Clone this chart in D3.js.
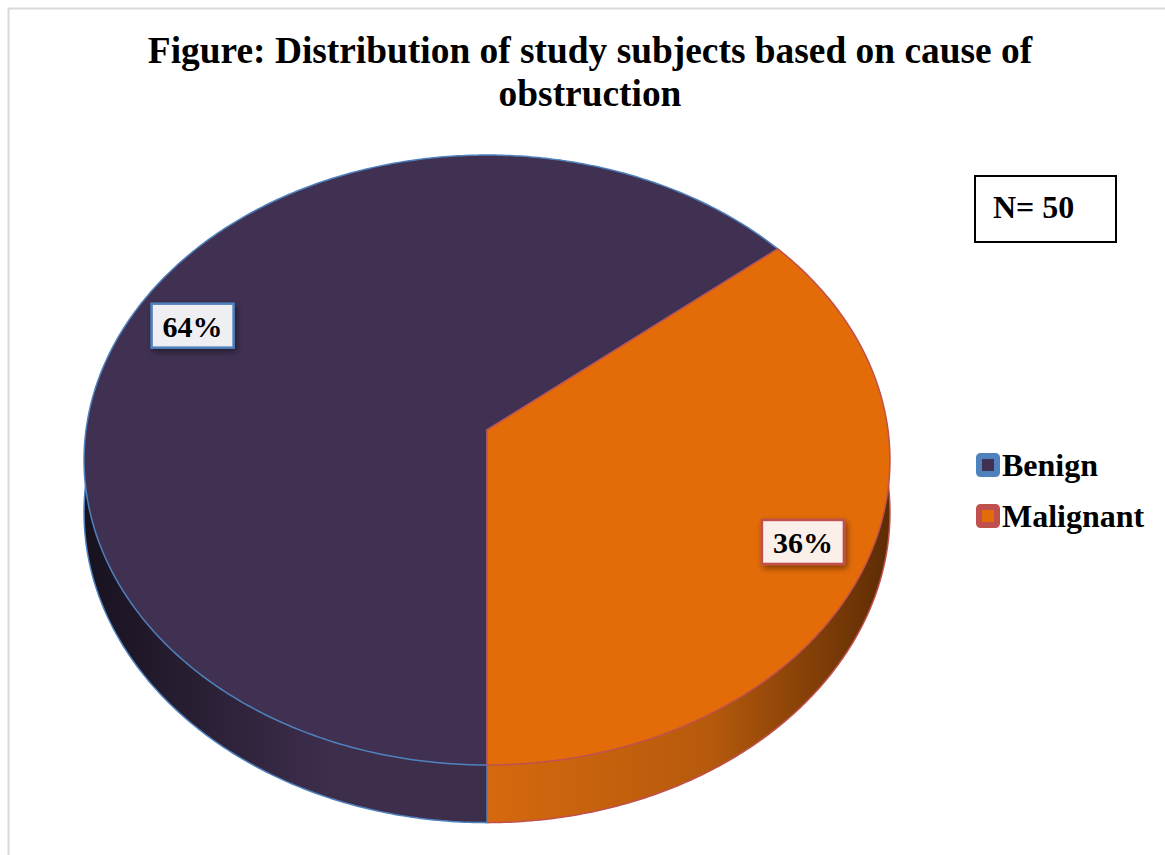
<!DOCTYPE html>
<html>
<head>
<meta charset="utf-8">
<script src="https://cdn.jsdelivr.net/npm/d3@7/dist/d3.min.js"></script>
<style>
  html, body { margin: 0; padding: 0; background: #ffffff; }
  svg { display: block; }
  text { font-family: "Times New Roman", "Liberation Serif", serif; font-weight: bold; fill: #000; }
</style>
</head>
<body>
<svg id="chart" width="1165" height="855"></svg>
<script>
// Chart content
const titleLines = ["Figure: Distribution of study subjects based on cause of", "obstruction"];
const categories = ["Benign", "Malignant"];
const values = [64, 36];
const valueLabels = ["64%", "36%"];
const sampleNote = "N= 50";

// Colours per category: face, outline, side wall (light → dark), label box fill
const faceColors = ["#403152", "#E36C09"];
const edgeColors = ["#4F81BD", "#C0504D"];
const sideLight = ["#3d2e4c", "#d5690e"];
const sideDark = ["#18121f", "#5e2c05"];
const boxFills = ["#eeeef3", "#fbefea"];

const svg = d3.select("#chart");
const W = 1165, H = 855;

// outer frame
svg.append("rect")
  .attr("x", 8.5).attr("y", 8.5)
  .attr("width", W).attr("height", H)
  .attr("fill", "none").attr("stroke", "#d9d9d9").attr("stroke-width", 2);

// title
svg.append("g").selectAll("text").data(titleLines).join("text")
  .attr("x", 590).attr("y", (d, i) => 63 + i * 43)
  .attr("text-anchor", "middle")
  .style("font-size", "37.4px")
  .text(d => d);

// ---- 3D pie with a perspective tilt ----
const cx = 487, cy = 430;      // pie centre on the top face
const A = 401, B = 302;        // horizontal / depth semi-axes before perspective
const k = 0.0984;              // perspective strength (front is nearer)
const depth = 52;              // thickness of the pie

const xs = d3.scaleLinear().domain([-1, 1]).range([cx - A, cx + A]);
const ys = d3.scaleLinear().domain([-1, 1]).range([cy + B, cy - B]);

// angle a: 0 = back (12 o'clock), clockwise; r in [0,1]; h = drop below top face
function proj(r, a, h) {
  const u = r * Math.sin(a), v = r * Math.cos(a);
  const s = 1 + k * v;
  return [xs(u / s), ys(v / s) + h / s];
}

const pie = d3.pie().sort(null).startAngle(Math.PI).endAngle(3 * Math.PI);
const arcs = pie(values);
const line = d3.line();

function arcPoints(a0, a1, h) {
  const n = Math.max(2, Math.ceil(Math.abs(a1 - a0) / 0.01));
  return d3.range(n + 1).map(i => proj(1, a0 + (a1 - a0) * i / n, h));
}

const defs = svg.append("defs");
arcs.forEach((d, i) => {
  const g = defs.append("linearGradient")
    .attr("id", "side" + i)
    .attr("gradientUnits", "userSpaceOnUse")
    .attr("x1", i === 0 ? cx - A : cx).attr("y1", 0)
    .attr("x2", i === 0 ? cx : cx + A).attr("y2", 0);
  g.append("stop").attr("offset", "0%").attr("stop-color", i === 0 ? sideDark[i] : sideLight[i]);
  g.append("stop").attr("offset", i === 0 ? "60%" : "55%").attr("stop-color", i === 0 ? sideLight[i] : d3.interpolateRgb(sideLight[i], sideDark[i])(0.25));
  g.append("stop").attr("offset", "100%").attr("stop-color", i === 0 ? sideLight[i] : sideDark[i]);
});

const shadow = defs.append("filter").attr("id", "lblShadow")
  .attr("x", "-30%").attr("y", "-30%").attr("width", "160%").attr("height", "160%");
shadow.append("feDropShadow")
  .attr("dx", 2).attr("dy", 3).attr("stdDeviation", 3)
  .attr("flood-color", "#000").attr("flood-opacity", 0.45);

// side walls
const sides = svg.append("g");
arcs.forEach((d, i) => {
  const top = arcPoints(d.startAngle, d.endAngle, 0);
  const bottom = arcPoints(d.endAngle, d.startAngle, depth);
  sides.append("path")
    .attr("d", line(top.concat(bottom)) + "Z")
    .attr("fill", `url(#side${i})`)
    .attr("stroke", "none");
  sides.append("path")
    .attr("d", line(arcPoints(d.endAngle, d.startAngle, depth)))
    .attr("fill", "none").attr("stroke", edgeColors[i]).attr("stroke-width", 1.5);
});
// vertical seam at the front where the two slices meet
arcs.forEach((d, i) => {
  const a = d.startAngle;
  sides.append("path")
    .attr("d", line([proj(1, a, 0), proj(1, a, depth)]))
    .attr("stroke", edgeColors[i]).attr("stroke-width", 1.5);
});

// top faces
const faces = svg.append("g");
arcs.forEach((d, i) => {
  const pts = [proj(0, 0, 0)].concat(arcPoints(d.startAngle, d.endAngle, 0));
  faces.append("path")
    .attr("d", line(pts) + "Z")
    .attr("fill", faceColors[i])
    .attr("stroke", edgeColors[i]).attr("stroke-width", 1.5)
    .attr("stroke-linejoin", "round");
});

// value labels
const lbl = svg.append("g");
arcs.forEach((d, i) => {
  const mid = (d.startAngle + d.endAngle) / 2;
  const [x, y] = proj(0.84, mid, 0);
  const bw = 82, bh = 44;
  lbl.append("rect")
    .attr("x", x - bw / 2).attr("y", y - bh / 2)
    .attr("width", bw).attr("height", bh)
    .attr("fill", boxFills[i])
    .attr("stroke", edgeColors[i]).attr("stroke-width", 2.5)
    .attr("filter", "url(#lblShadow)");
  lbl.append("text")
    .attr("x", x).attr("y", y + 11)
    .attr("text-anchor", "middle")
    .style("font-size", "30px")
    .text(valueLabels[i]);
});

// sample size box
svg.append("rect")
  .attr("x", 975).attr("y", 176)
  .attr("width", 141).attr("height", 66)
  .attr("fill", "#fff").attr("stroke", "#000").attr("stroke-width", 2);
svg.append("text")
  .attr("x", 993).attr("y", 218)
  .style("font-size", "32px")
  .text(sampleNote);

// legend
const legend = svg.append("g").attr("transform", "translate(976,453)");
const items = legend.selectAll("g").data(categories).join("g")
  .attr("transform", (d, i) => `translate(0,${i * 51})`);
items.append("rect")
  .attr("x", 3).attr("y", 3).attr("width", 18).attr("height", 18).attr("rx", 1.5)
  .attr("fill", (d, i) => faceColors[i])
  .attr("stroke", (d, i) => edgeColors[i]).attr("stroke-width", 6);
items.append("text")
  .attr("x", 26).attr("y", 23)
  .style("font-size", "32px")
  .text(d => d);
</script>
</body>
</html>
